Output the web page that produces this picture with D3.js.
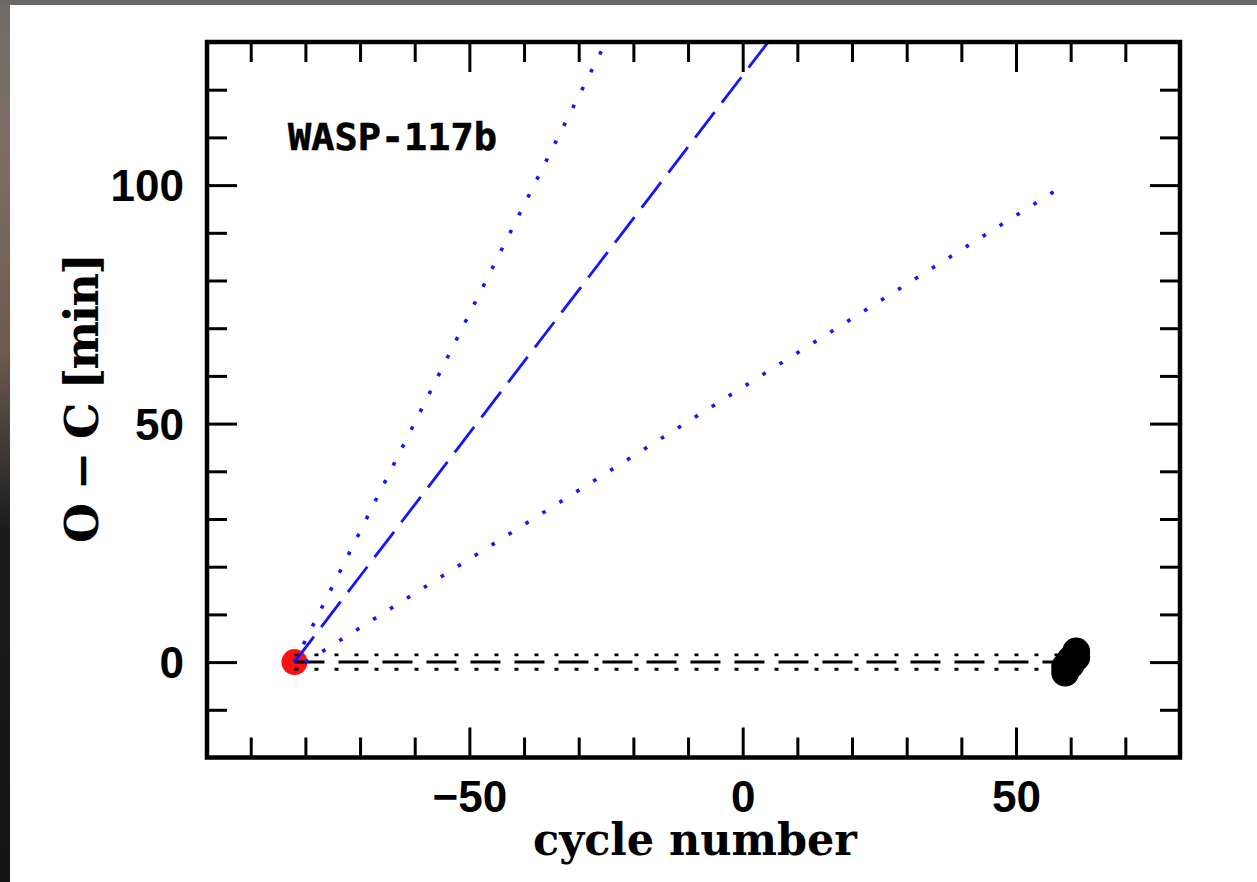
<!DOCTYPE html>
<html>
<head>
<meta charset="utf-8">
<script src="https://cdn.jsdelivr.net/npm/d3@7"></script>
<style>
  html, body { margin: 0; padding: 0; background: #fff; }
  svg { display: block; }
</style>
</head>
<body>
<svg id="chart" width="1257" height="882"></svg>
<script>
// Transit timing: first-epoch reference and later transits (O−C in minutes)
const refCycle = [-82];
const refOC = [0];
const newCycle = [59, 59, 60, 60, 61, 61];
const newOC = [-2.2, -1.0, -0.5, 0.5, 1.0, 2.2];

// Linear ephemeris and its ±1σ envelope
const ephemCycle = [-82, 60];
const ephemOC = [0, 0];
const ephemSigma = 1.5;

// Predicted drift lines (start cycle, end cycle, O−C at end)
const predName = ["upper", "central", "lower"];
const predStartCycle = [-82, -82, -80];
const predEndCycle = [60, 60, 58];
const predEndOC = [324, 213, 99.4];

// Axis ticks
const xMajorTicks = [-50, 0, 50];
const xMinorTicks = [-90, -80, -70, -60, -40, -30, -20, -10, 10, 20, 30, 40, 60, 70, 80];
const yMajorTicks = [0, 50, 100];
const yMinorTicks = [-10, 10, 20, 30, 40, 60, 70, 80, 90, 110, 120];

const svg = d3.select("#chart");
const W = 1257, H = 882;

// page edges
const defs = svg.append("defs");
const grad = defs.append("linearGradient").attr("id", "edge").attr("x1", 0).attr("y1", 0).attr("x2", 0).attr("y2", 1);
[[0, "#6f6b69"], [0.15, "#7e6f66"], [0.4, "#6e5a50"], [0.52, "#3a3634"], [0.6, "#1a1d1b"], [1, "#111412"]]
  .forEach(([o, c]) => grad.append("stop").attr("offset", o).attr("stop-color", c));
svg.append("rect").attr("x", 0).attr("y", 0).attr("width", W).attr("height", H).attr("fill", "#fff");
svg.append("rect").attr("x", 0).attr("y", 0).attr("width", 10).attr("height", H).attr("fill", "url(#edge)");
svg.append("rect").attr("x", 0).attr("y", 0).attr("width", W).attr("height", 5).attr("fill", "#6b6867");

const L = 207, R = 1180, T = 42, B = 757.5;
const x = d3.scaleLinear().domain([-98, 80]).range([L, R]);
const y = d3.scaleLinear().domain([-20, 130]).range([B, T]);

defs.append("clipPath").attr("id", "plotclip")
  .append("rect").attr("x", L).attr("y", T).attr("width", R - L).attr("height", B - T);

const numFont = "'Liberation Sans', Arial, sans-serif";
const serifFont = "'DejaVu Serif', 'Liberation Serif', serif";

function styleAxis(g) {
  g.select(".domain").remove();
  g.selectAll(".tick line").attr("stroke", "#000").attr("stroke-width", 3);
  g.selectAll("text").attr("font-family", numFont).attr("font-weight", "bold")
    .attr("font-size", 44).attr("fill", "#000");
}

// bottom axis
svg.append("g").attr("transform", `translate(0,${B})`)
  .call(d3.axisBottom(x).tickValues(xMajorTicks).tickSize(-30).tickPadding(23).tickFormat(d => d < 0 ? "\u2212" + Math.abs(d) : d))
  .call(styleAxis);
svg.append("g").attr("transform", `translate(0,${B})`)
  .call(d3.axisBottom(x).tickValues(xMinorTicks).tickSize(-20).tickFormat(""))
  .call(styleAxis);
// top axis
svg.append("g").attr("transform", `translate(0,${T})`)
  .call(d3.axisTop(x).tickValues(xMajorTicks).tickSize(-30).tickFormat(""))
  .call(styleAxis);
svg.append("g").attr("transform", `translate(0,${T})`)
  .call(d3.axisTop(x).tickValues(xMinorTicks).tickSize(-20).tickFormat(""))
  .call(styleAxis);
// left axis
svg.append("g").attr("transform", `translate(${L},0)`)
  .call(d3.axisLeft(y).tickValues(yMajorTicks).tickSize(-30).tickPadding(23))
  .call(styleAxis)
  .call(g => g.selectAll("text").attr("dy", "0.35em"));
svg.append("g").attr("transform", `translate(${L},0)`)
  .call(d3.axisLeft(y).tickValues(yMinorTicks).tickSize(-20).tickFormat(""))
  .call(styleAxis);
// right axis
svg.append("g").attr("transform", `translate(${R},0)`)
  .call(d3.axisRight(y).tickValues(yMajorTicks).tickSize(-30).tickFormat(""))
  .call(styleAxis);
svg.append("g").attr("transform", `translate(${R},0)`)
  .call(d3.axisRight(y).tickValues(yMinorTicks).tickSize(-20).tickFormat(""))
  .call(styleAxis);

const plot = svg.append("g").attr("clip-path", "url(#plotclip)");

// first-epoch transit
plot.selectAll("circle.ref").data(refCycle).join("circle").attr("class", "ref")
  .attr("cx", d => x(d)).attr("cy", (d, i) => y(refOC[i])).attr("r", 13)
  .attr("fill", "#ff1010");

// linear ephemeris with ±1σ envelope
const line = d3.line().x(d => x(d[0])).y(d => y(d[1]));
const ephem = ephemCycle.map((c, i) => [c, ephemOC[i]]);
plot.append("path").attr("d", line(ephem)).attr("fill", "none")
  .attr("stroke", "#000").attr("stroke-width", 3).attr("stroke-dasharray", "30,14");
[-1, 1].forEach(s => {
  plot.append("path").attr("d", line(ephem.map(d => [d[0], d[1] + s * ephemSigma])))
    .attr("fill", "none").attr("stroke", "#000").attr("stroke-width", 2.8)
    .attr("stroke-dasharray", "4,16");
});

// predicted drift lines
predName.forEach((n, i) => {
  const pts = [[predStartCycle[i], 0], [predEndCycle[i], predEndOC[i]]];
  plot.append("path").attr("d", line(pts)).attr("fill", "none")
    .attr("stroke", "#1414ff").attr("stroke-width", n === "central" ? 2.8 : 3.6)
    .attr("stroke-dasharray", n === "central" ? "32,12" : "3.6,16.4");
});

// recent transits
plot.selectAll("circle.obs").data(newCycle).join("circle").attr("class", "obs")
  .attr("cx", d => x(d)).attr("cy", (d, i) => y(newOC[i])).attr("r", 14)
  .attr("fill", "#000");

// frame
svg.append("rect").attr("x", L).attr("y", T).attr("width", R - L).attr("height", B - T)
  .attr("fill", "none").attr("stroke", "#000").attr("stroke-width", 4.5);

// labels
svg.append("text").attr("x", 288).attr("y", 150)
  .attr("font-family", "'DejaVu Sans Mono', monospace").attr("font-weight", "bold")
  .attr("font-size", 37).attr("textLength", 209).attr("lengthAdjust", "spacingAndGlyphs")
  .attr("stroke", "#000").attr("stroke-width", 0.6)
  .text("WASP-117b");

svg.append("text").attr("x", 695).attr("y", 855).attr("text-anchor", "middle")
  .attr("font-family", serifFont).attr("font-weight", "bold").attr("font-size", 44)
  .attr("textLength", 324).attr("lengthAdjust", "spacingAndGlyphs")
  .text("cycle  number");

svg.append("text").attr("transform", "translate(98,398) rotate(-90)").attr("text-anchor", "middle")
  .attr("font-family", serifFont).attr("font-weight", "bold").attr("font-size", 46)
  .attr("textLength", 290).attr("lengthAdjust", "spacing")
  .text("O \u2212 C [min]");
</script>
</body>
</html>
